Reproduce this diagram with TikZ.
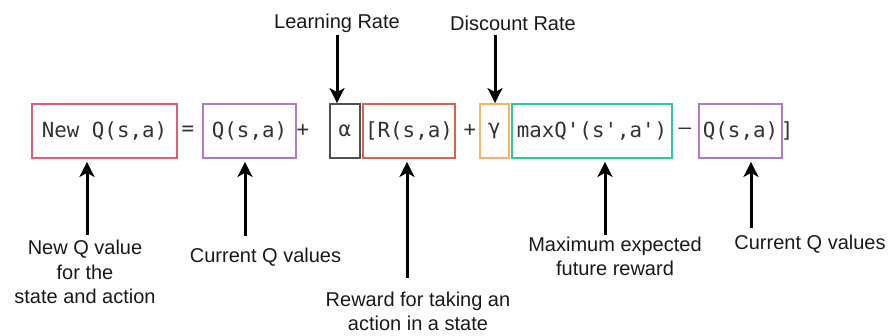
\documentclass[tikz,border=0pt]{standalone}
\usepackage{fontspec}
\setmainfont{Liberation Sans}
\newfontfamily\formulafont{DejaVu Sans Mono}
\usetikzlibrary{arrows.meta}
\definecolor{cpink}{RGB}{232,88,120}
\definecolor{cpurple}{RGB}{180,120,196}
\definecolor{cgray}{RGB}{80,80,80}
\definecolor{cred}{RGB}{224,96,80}
\definecolor{corange}{RGB}{245,180,100}
\definecolor{cgreen}{RGB}{40,204,140}
\definecolor{ftext}{RGB}{50,50,50}
\tikzset{
  fbox/.style={draw, line width=1.8pt, minimum height=54pt, inner sep=0pt,
    font=\formulafont\fontsize{20.8}{24}\selectfont, text=ftext},
  ftxt/.style={inner sep=0pt, font=\formulafont\fontsize{20.8}{24}\selectfont, text=ftext},
  lbl/.style={inner sep=0pt, align=center, font=\fontsize{20}{24.5}\selectfont, text=black!90},
  arr/.style={line width=3pt, -{Stealth[length=15pt,width=15pt,inset=4pt]}, shorten >=3pt}
}
\begin{document}
\begin{tikzpicture}[x=1pt,y=-1pt]
\useasboundingbox (0,0) rectangle (888,336);
% formula boxes
\node[fbox, draw=cpink, minimum width=145pt] (newq) at (104.5,131) {New Q(s,a)};
\node[ftxt] (eq) at (188,131) {=};
\node[fbox, draw=cpurple, minimum width=93pt] (q1) at (249.5,131) {Q(s,a)};
\node[ftxt] (p1) at (303,131) {+};
\node[fbox, draw=cgray, minimum width=30pt] (alpha) at (345,131) {α};
\node[fbox, draw=cred, minimum width=92pt] (r) at (409,131) {[R(s,a)};
\node[ftxt] (p2) at (470,131) {+};
\node[fbox, draw=corange, minimum width=29pt] (gamma) at (494.5,131) {γ};
\node[fbox, draw=cgreen, minimum width=160pt] (maxq) at (592,131) {maxQ'(s',a')};
\node[ftxt] (minus) at (685,131) {–};
\node[fbox, draw=cpurple, minimum width=83pt] (q2) at (740.5,131) {Q(s,a)};
\node[ftxt] (rb) at (787,131) {]};
% labels
\node[lbl] (lr) at (337,23) {Learning Rate};
\node[lbl] (dr) at (513,23) {Discount Rate};
\node[lbl] (l1) at (85,272) {New Q value\\for the\\state and action};
\node[lbl] (l2) at (265.5,257) {Current Q values};
\node[lbl] (l3) at (418,311.5) {Reward for taking an\\action in a state};
\node[lbl] (l4) at (615,256.5) {Maximum expected\\future reward};
\node[lbl] (l5) at (810,244) {Current Q values};
% arrow start points
\coordinate (s1) at (337,35);
\coordinate (s2) at (495,35);
\coordinate (b1) at (87,235);
\coordinate (b2) at (245,236);
\coordinate (b3) at (407,278);
\coordinate (b4) at (605,235);
\coordinate (b5) at (751,228);
% arrows
\draw[arr, shorten >=0pt] (s1) -- (s1 |- alpha.north);
\draw[arr, shorten >=0pt] (s2) -- (s2 |- gamma.north);
\draw[arr] (b1) -- (b1 |- newq.south);
\draw[arr] (b2) -- (b2 |- q1.south);
\draw[arr] (b3) -- (b3 |- r.south);
\draw[arr] (b4) -- (b4 |- maxq.south);
\draw[arr] (b5) -- (b5 |- q2.south);
\end{tikzpicture}
\end{document}
